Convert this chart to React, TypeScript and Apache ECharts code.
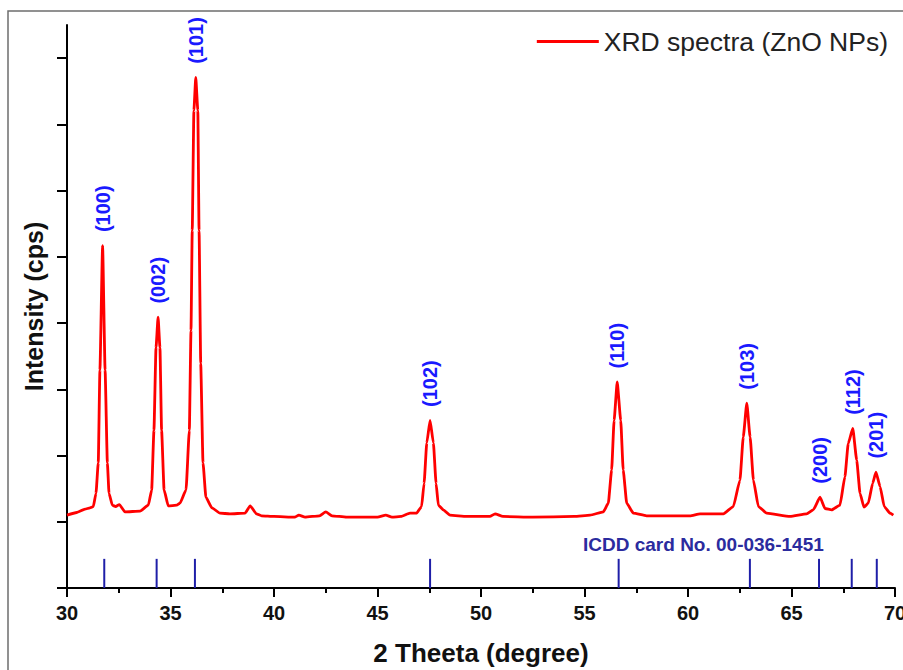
import React, { useEffect, useRef } from "react";
import * as echarts from "echarts";

// 2θ (degree), intensity (cps)
const spectrum: [number, number][] = [
  [30.0, 1100], [30.47, 1140], [30.87, 1190], [31.11, 1210], [31.27, 1230], [31.4, 1430], [31.51, 1890],
  [31.59, 3290], [31.72, 5170], [31.84, 3290], [31.95, 1890], [32.03, 1430], [32.19, 1250], [32.35, 1230],
  [32.53, 1260], [32.8, 1150], [33.53, 1160], [33.93, 1250], [34.09, 1480], [34.2, 2380], [34.3, 3630],
  [34.4, 4090], [34.49, 3630], [34.57, 2380], [34.69, 1480], [34.89, 1240], [35.3, 1250], [35.46, 1280],
  [35.75, 1480], [35.91, 2380], [35.99, 3890], [36.05, 5400], [36.13, 7210], [36.22, 7710], [36.32, 7210],
  [36.38, 5400], [36.46, 3390], [36.57, 1890], [36.71, 1370], [37.0, 1210], [37.39, 1130], [37.87, 1120],
  [38.6, 1130], [38.85, 1240], [39.15, 1120], [39.4, 1090], [40.0, 1080], [41.0, 1070], [41.2, 1100],
  [41.5, 1070], [42.2, 1090], [42.5, 1150], [42.8, 1090], [43.5, 1070], [45.0, 1070], [45.4, 1100],
  [45.7, 1070], [46.14, 1080], [46.57, 1130], [46.89, 1130], [47.13, 1230], [47.25, 1580], [47.38, 2190],
  [47.54, 2530], [47.7, 2190], [47.83, 1580], [47.94, 1250], [48.18, 1180], [48.5, 1100], [49.31, 1080],
  [50.43, 1080], [50.68, 1120], [51.06, 1080], [52.5, 1070], [54.5, 1080], [55.27, 1100], [55.91, 1150],
  [56.15, 1280], [56.31, 1780], [56.43, 2530], [56.58, 3110], [56.75, 2530], [56.87, 1780], [57.04, 1280],
  [57.36, 1130], [58.0, 1090], [60.1, 1090], [60.58, 1120], [61.71, 1120], [62.19, 1230], [62.51, 1630],
  [62.67, 2280], [62.84, 2790], [63.0, 2280], [63.16, 1630], [63.4, 1230], [63.8, 1130], [64.93, 1080],
  [65.73, 1120], [66.05, 1180], [66.38, 1370], [66.62, 1200], [66.94, 1180], [67.34, 1250], [67.58, 1680],
  [67.74, 2180], [67.96, 2410], [68.15, 1930], [68.31, 1430], [68.5, 1220], [68.71, 1280], [68.92, 1580],
  [69.08, 1750], [69.28, 1530], [69.48, 1230], [69.76, 1130], [69.92, 1100],
];

// Miller-index labels at the peak maxima
const peakLabels: [number, number, string][] = [
  [31.72, 5170, "(100)"],
  [34.4, 4090, "(002)"],
  [36.22, 7710, "(101)"],
  [47.54, 2530, "(102)"],
  [56.58, 3110, "(110)"],
  [62.84, 2790, "(103)"],
  [66.38, 1370, "(200)"],
  [67.96, 2410, "(112)"],
  [69.08, 1750, "(201)"],
];

// ICDD card No. 00-036-1451 reference line positions (as drawn)
const icddPositions: number[] = [31.8, 34.33, 36.18, 47.54, 56.65, 62.99, 66.33, 67.91, 69.12];
const icddHeight = 440;

const xTicks = { min: 30, max: 70, interval: 5 };
const yTicks = { min: 0, max: 8000, interval: 1000, axisTop: 8500 };

const FONT = '"Liberation Sans", Arial, Helvetica, sans-serif';

export default function App() {
  const ref = useRef<HTMLDivElement>(null);
  useEffect(() => {
    if (!ref.current) return;
    document.body.style.margin = "0";
    document.body.style.overflow = "hidden";
    const chart = echarts.init(ref.current, undefined, { renderer: "svg", width: 903, height: 670 });
    const left = 67;
    const right = 8;
    const bottom = 82;
    chart.setOption({
      animation: false,
      backgroundColor: "#ffffff",
      textStyle: { fontFamily: FONT },
      graphic: [
        {
          type: "rect",
          shape: { x: 8, y: 11, width: 1200, height: 1200 },
          style: { fill: "none", stroke: "#6e6e6e", lineWidth: 1.5 },
          silent: true,
        },
        {
          type: "text",
          left: 583,
          top: 535,
          style: {
            text: "ICDD card No. 00-036-1451",
            fill: "#2b2b9e",
            fontSize: 19,
            fontWeight: "bold",
            fontFamily: FONT,
          },
        },
      ],
      legend: {
        data: [{ name: "XRD spectra (ZnO NPs)", icon: "rect" }],
        right: 10,
        top: 23,
        itemWidth: 62,
        itemHeight: 3,
        itemGap: 6,
        textStyle: { fontSize: 26.5, color: "#222", fontFamily: FONT },
      },
      grid: [
        { left, right, top: 25, bottom, containLabel: false, outerBoundsMode: "none" },
        { left, right, top: 58.1, bottom, containLabel: false, outerBoundsMode: "none" },
      ],
      xAxis: [
        {
          type: "value",
          gridIndex: 0,
          min: xTicks.min,
          max: xTicks.max,
          interval: xTicks.interval,
          name: "2 Theeta (degree)",
          nameLocation: "middle",
          nameGap: 52,
          nameTextStyle: { fontSize: 26, fontWeight: "bold", color: "#111", fontFamily: FONT },
          axisLine: { lineStyle: { color: "#000", width: 2 } },
          axisTick: { show: true, length: 9, lineStyle: { color: "#000", width: 2 } },
          minorTick: { show: true, splitNumber: 2, length: 5, lineStyle: { color: "#000", width: 2 } },
          axisLabel: { fontSize: 20, fontWeight: "bold", color: "#111", margin: 15, fontFamily: FONT },
          splitLine: { show: false },
        },
        {
          type: "value",
          gridIndex: 1,
          min: xTicks.min,
          max: xTicks.max,
          show: false,
        },
      ],
      yAxis: [
        {
          type: "value",
          gridIndex: 0,
          min: yTicks.min,
          max: yTicks.axisTop,
          name: "Intensity (cps)",
          nameLocation: "middle",
          nameGap: 21,
          nameTextStyle: { fontSize: 25, fontWeight: "bold", color: "#111", fontFamily: FONT },
          axisLine: { show: true, lineStyle: { color: "#000", width: 2 } },
          axisTick: { show: false },
          axisLabel: { show: false },
          splitLine: { show: false },
        },
        {
          type: "value",
          gridIndex: 1,
          min: yTicks.min,
          max: yTicks.max,
          interval: yTicks.interval,
          axisLine: { show: false },
          axisTick: { show: true, length: 10, lineStyle: { color: "#000", width: 2 } },
          axisLabel: { show: false },
          splitLine: { show: false },
        },
      ],
      series: [
        {
          name: "XRD spectra (ZnO NPs)",
          type: "line",
          xAxisIndex: 0,
          yAxisIndex: 0,
          data: spectrum,
          symbol: "none",
          smooth: 0.15,
          smoothMonotone: "x",
          lineStyle: { color: "#ff0000", width: 2.8 },
          itemStyle: { color: "#ff0000" },
          z: 3,
        },
        {
          name: "labels",
          type: "scatter",
          xAxisIndex: 0,
          yAxisIndex: 0,
          data: peakLabels,
          symbolSize: 1,
          itemStyle: { color: "rgba(0,0,0,0)", opacity: 1 },
          silent: true,
          label: {
            show: true,
            position: "top",
            distance: 13,
            rotate: 90,
            align: "left",
            verticalAlign: "middle",
            formatter: (p: any) => p.data[2],
            color: "#1a1aff",
            opacity: 1,
            fontSize: 20,
            fontWeight: 700,
            fontFamily: FONT,
          },
        },
        {
          name: "ICDD",
          type: "custom",
          xAxisIndex: 0,
          yAxisIndex: 0,
          data: icddPositions.map((x) => [x, icddHeight]),
          silent: true,
          renderItem: (params: any, api: any) => {
            const x = api.value(0);
            const h = api.value(1);
            const p0 = api.coord([x, 0]);
            const p1 = api.coord([x, h]);
            return {
              type: "line",
              shape: { x1: p0[0], y1: p0[1], x2: p1[0], y2: p1[1] },
              style: { stroke: "#1f1fa8", lineWidth: 2 },
            };
          },
          z: 2,
        },
      ],
    });
    return () => chart.dispose();
  }, []);
  return (
    <div
      ref={ref}
      style={{ position: "absolute", left: 0, top: 0, width: 903, height: 670 }}
    />
  );
}
